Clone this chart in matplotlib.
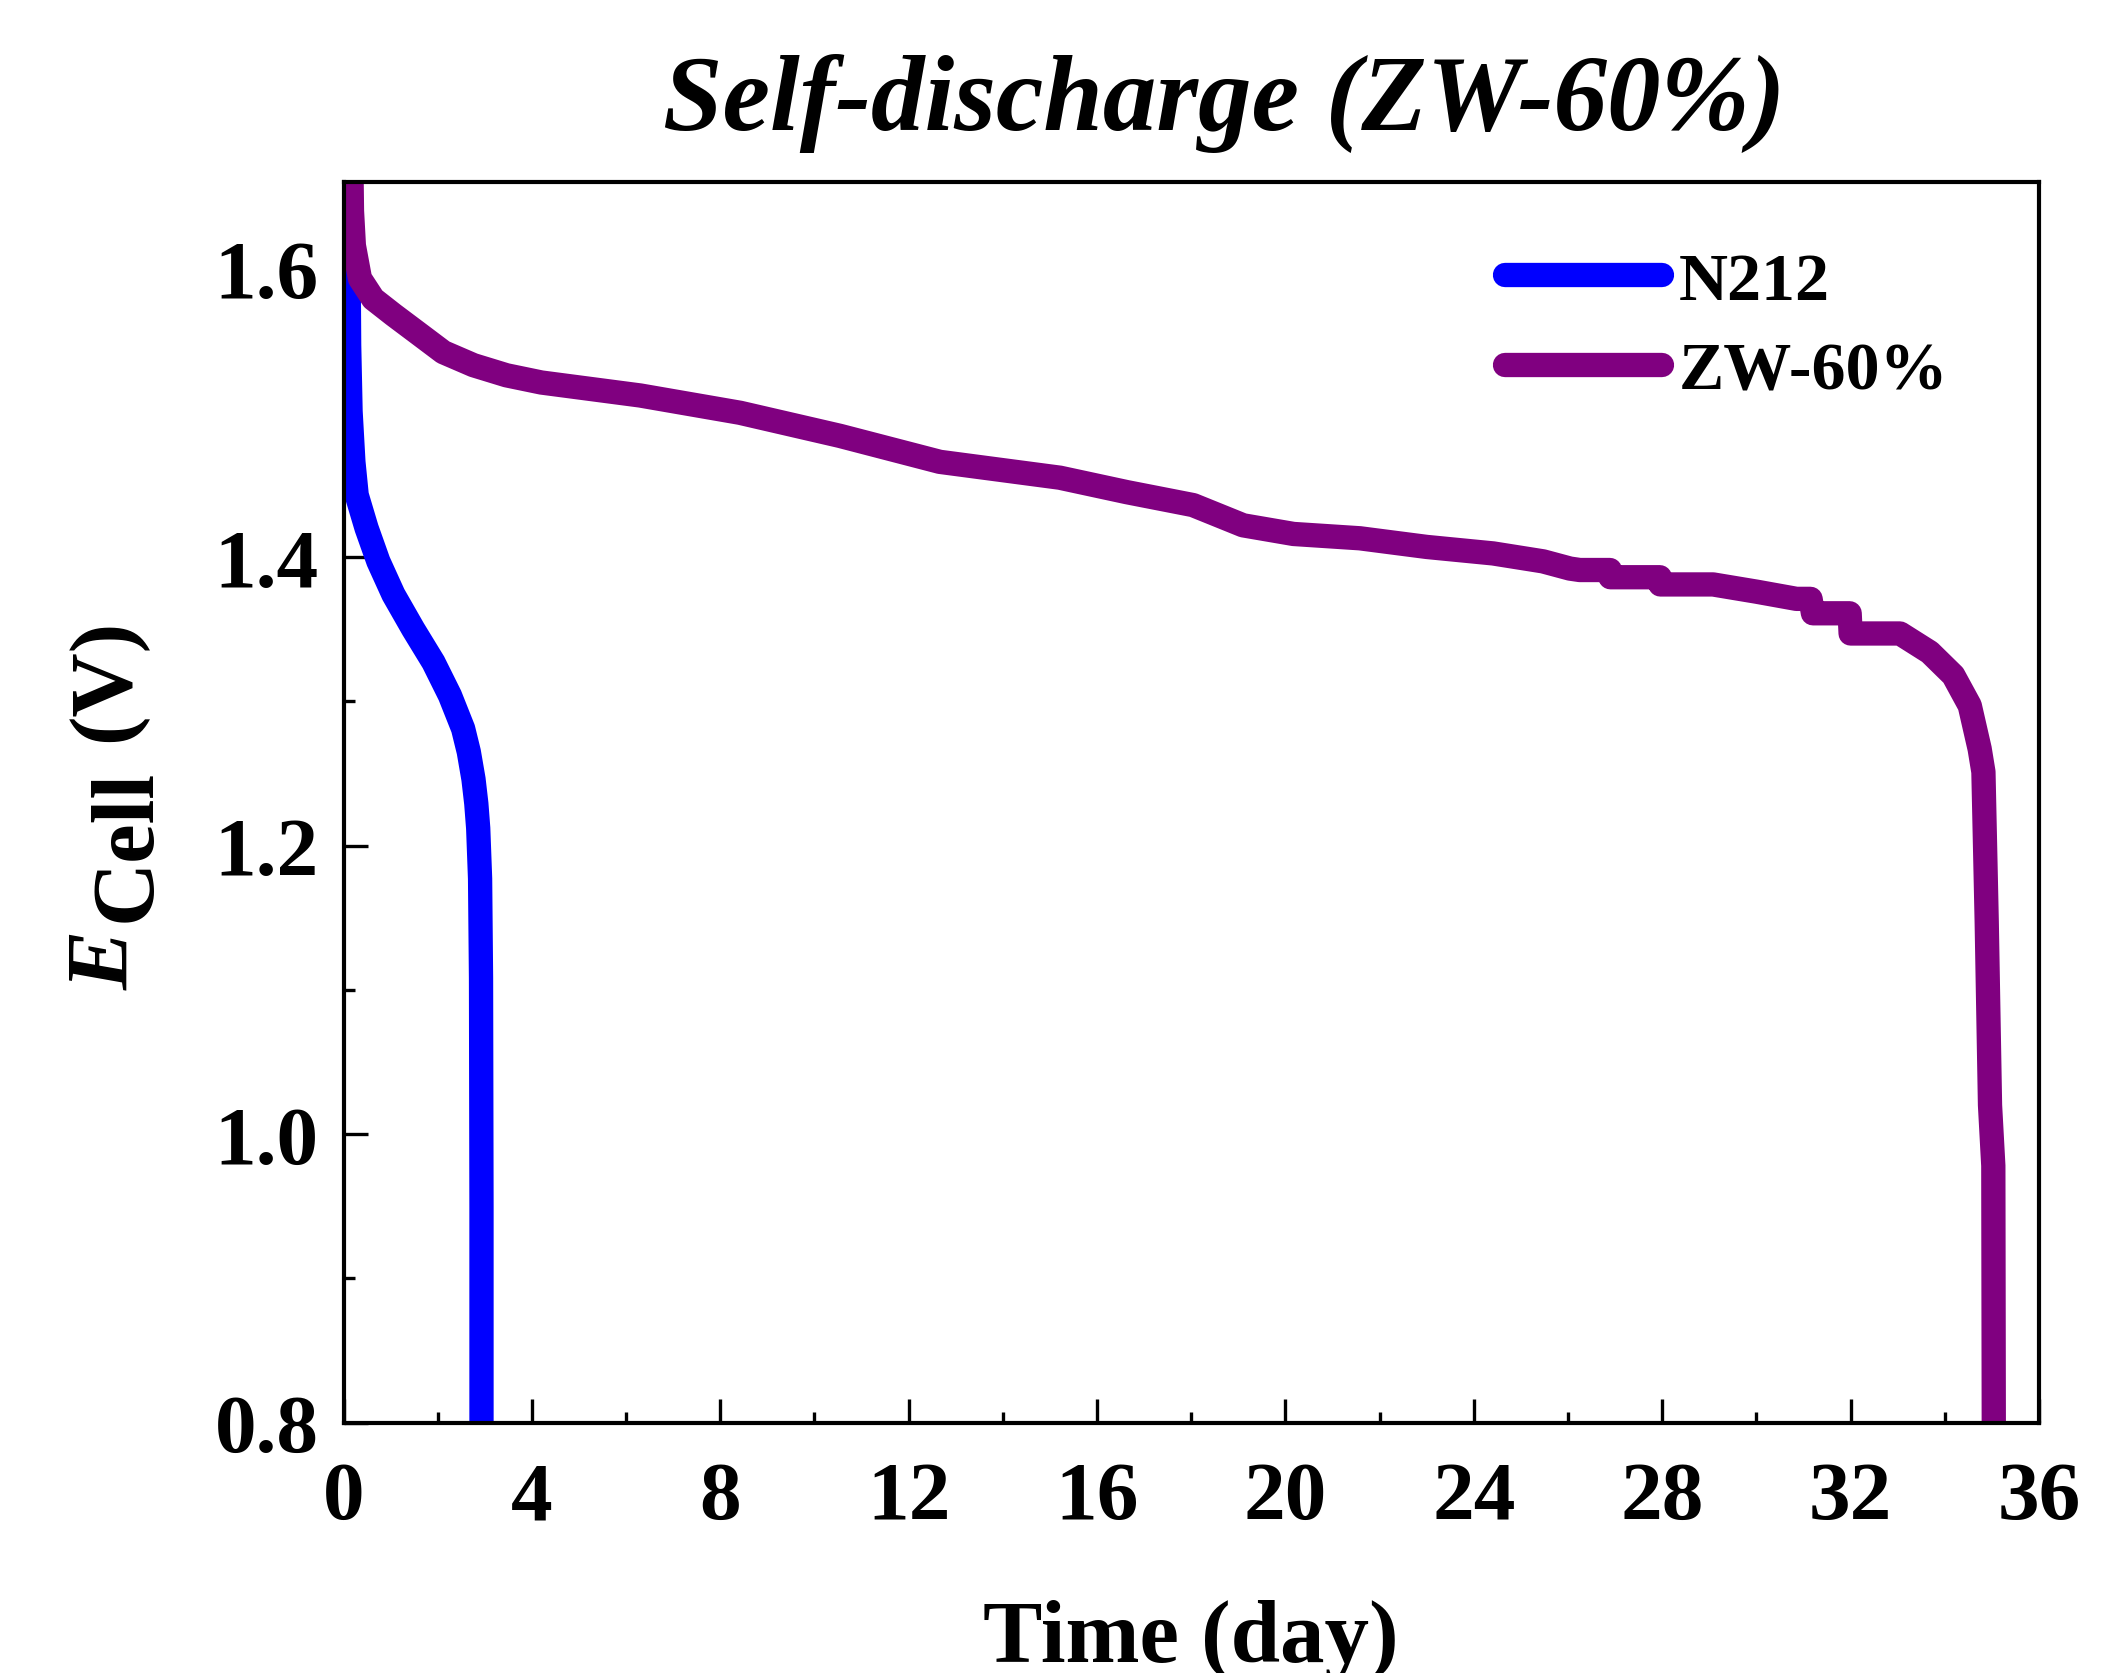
import matplotlib
matplotlib.use("Agg")
import matplotlib.pyplot as plt
from matplotlib.ticker import MultipleLocator

# values (time in days, cell voltage in V)
n212_day = [0.10, 0.12, 0.15, 0.21, 0.28, 0.49, 0.74, 1.06, 1.48, 1.91, 2.26,
            2.54, 2.66, 2.76, 2.82, 2.86, 2.90, 2.92, 2.93, 2.93]
n212_v = [1.64, 1.547, 1.501, 1.466, 1.443, 1.420, 1.397, 1.374, 1.350, 1.327, 1.304,
          1.281, 1.265, 1.246, 1.229, 1.212, 1.177, 1.108, 0.95, 0.78]

zw_day = [0.16, 0.18, 0.22, 0.35, 0.63, 1.06, 1.55, 2.12, 2.76, 3.46, 4.20, 6.30,
          8.42, 10.54, 12.66, 15.21, 16.63, 18.04, 19.10, 20.17, 21.58, 23.00, 24.41,
          25.47, 26.04, 26.25, 26.89, 26.90, 27.95, 27.96, 29.08, 30.00, 30.85, 31.15,
          31.20, 31.98, 32.00, 33.05, 33.68, 34.18, 34.53, 34.74, 34.82, 34.89, 34.96,
          35.03, 35.04]
zw_v = [1.69, 1.64, 1.616, 1.593, 1.579, 1.568, 1.556, 1.542, 1.533, 1.526, 1.521, 1.512,
        1.500, 1.484, 1.466, 1.455, 1.445, 1.436, 1.422, 1.416, 1.413, 1.407, 1.4025,
        1.397, 1.392, 1.391, 1.391, 1.386, 1.386, 1.381, 1.381, 1.376, 1.371, 1.371,
        1.361, 1.361, 1.347, 1.347, 1.334, 1.318, 1.297, 1.267, 1.251, 1.147, 1.020,
        0.978, 0.797]

labels = ["N212", "ZW-60%"]
colors = ["#0000FF", "#800080"]

plt.rcParams["font.family"] = "Liberation Serif"
plt.rcParams["font.weight"] = "bold"

W, H = 2115, 1674
fig = plt.figure(figsize=(W / 100, H / 100), dpi=100)
ax = fig.add_axes([343.5 / W, 1 - 1423.5 / H, (2039 - 343.5) / W, (1423.5 - 183) / H])

lw = 17.5
ax.plot(n212_day, n212_v, color=colors[0], lw=lw, label=labels[0],
        solid_capstyle="round", solid_joinstyle="round")
ax.plot(zw_day, zw_v, color=colors[1], lw=lw, label=labels[1],
        solid_capstyle="round", solid_joinstyle="round")

ax.set_xlim(0, 36)
ax.set_ylim(0.8, 1.66)
ax.xaxis.set_major_locator(MultipleLocator(4))
ax.xaxis.set_minor_locator(MultipleLocator(2))
ax.yaxis.set_major_locator(MultipleLocator(0.2))
ax.yaxis.set_minor_locator(MultipleLocator(0.1))
ax.yaxis.set_major_formatter(lambda v, p: f"{v:.1f}")

for s in ax.spines.values():
    s.set_linewidth(3)
ax.tick_params(which="both", direction="in", top=False, right=False, width=2.4,
               labelsize=60)
ax.tick_params(which="major", length=17)
ax.tick_params(which="minor", length=8)
ax.tick_params(axis="x", pad=28)
ax.tick_params(axis="y", pad=18)

ax.legend(loc="upper left", bbox_to_anchor=((1505 - 343.5) / 1695.5, 1 - (252 - 183) / 1240.5),
          frameon=False, fontsize=49, handlelength=2.3, handletextpad=0.26,
          labelspacing=0.42, borderpad=0, borderaxespad=0)

# title and axis labels
fig.text(1224 / W, 1 - 130 / H, "Self-discharge (ZW-60%)", ha="center", va="baseline",
         fontsize=77, fontweight="bold", fontstyle="italic")
fig.text(1191 / W, 1 - 1662 / H, "Time (day)", ha="center", va="baseline",
         fontsize=64, fontweight="bold")

# y label: italic E with a full-size, lowered "Cell"
fig.text(128 / W, 1 - 990 / H, "E", rotation=90, rotation_mode="anchor",
         ha="left", va="baseline", fontsize=64, fontweight="bold", fontstyle="italic")
fig.text(150 / W, 1 - 922 / H, "Cell", rotation=90, rotation_mode="anchor",
         ha="left", va="baseline", fontsize=64, fontweight="bold")
fig.text(128 / W, 1 - 742 / H, "(V)", rotation=90, rotation_mode="anchor",
         ha="left", va="baseline", fontsize=64, fontweight="bold")

fig.savefig("out.png", dpi=100)
